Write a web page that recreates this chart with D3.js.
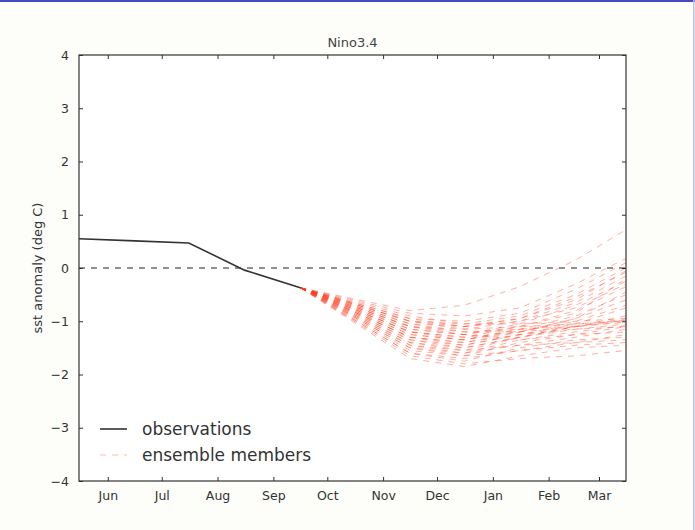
<!DOCTYPE html>
<html>
<head>
<meta charset="utf-8">
<script src="https://cdn.jsdelivr.net/npm/d3@7"></script>
<style>
  html, body { margin: 0; padding: 0; background: #fdfdfa; }
  svg { display: block; }
</style>
</head>
<body>
<script>
// ---------- data ----------
const title = "Nino3.4";
const yLabel = "sst anomaly (deg C)";
const obsDates = ["2016-05-16", "2016-06-16", "2016-07-16", "2016-08-16", "2016-09-16"];
const obsValues = [0.55, 0.51, 0.47, -0.04, -0.37];
const ensDates = ["2016-09-16", "2016-11-16", "2016-12-16", "2017-01-16", "2017-02-16", "2017-03-16"];
// each member: values at Nov, Dec, Jan, Feb, Mar (starts from last observation)
const ensMembers = [
  [-0.80, -0.70, -0.35, 0.15, 0.72],
  [-0.85, -0.90, -0.75, -0.30, 0.18],
  [-0.95, -1.00, -0.85, -0.40, 0.10],
  [-1.00, -1.05, -0.90, -0.50, 0.00],
  [-1.05, -1.10, -0.95, -0.55, -0.08],
  [-1.10, -1.15, -1.00, -0.65, -0.15],
  [-1.15, -1.25, -1.05, -0.70, -0.25],
  [-1.20, -1.30, -1.10, -0.80, -0.35],
  [-1.25, -1.35, -1.15, -0.90, -0.50],
  [-1.30, -1.40, -1.20, -0.95, -0.60],
  [-1.35, -1.45, -1.25, -1.05, -0.75],
  [-1.40, -1.50, -1.30, -1.10, -0.90],
  [-0.90, -1.05, -1.05, -1.00, -0.95],
  [-1.00, -1.15, -1.10, -1.05, -0.98],
  [-1.10, -1.20, -1.15, -1.10, -1.00],
  [-1.20, -1.30, -1.20, -1.10, -1.02],
  [-1.30, -1.40, -1.25, -1.15, -1.05],
  [-1.45, -1.55, -1.30, -1.15, -1.10],
  [-1.55, -1.65, -1.40, -1.25, -1.20],
  [-1.60, -1.75, -1.50, -1.35, -1.30],
  [-1.70, -1.85, -1.65, -1.50, -1.45],
  [-1.65, -1.80, -1.70, -1.65, -1.55],
  [-1.50, -1.60, -1.45, -1.30, -1.15],
  [-1.25, -1.35, -1.20, -1.00, -0.70],
  [-1.15, -1.25, -1.35, -1.25, -1.10],
  [-1.05, -1.20, -1.20, -0.95, -0.45],
  [-0.95, -1.10, -1.00, -0.75, -0.30],
  [-1.40, -1.55, -1.45, -1.40, -1.35],
  [-1.35, -1.50, -1.30, -1.10, -0.95],
  [-1.60, -1.70, -1.55, -1.40, -1.25],
  [-1.20, -1.35, -1.15, -1.05, -1.00],
  [-1.30, -1.45, -1.25, -1.10, -0.98],
  [-1.45, -1.60, -1.35, -1.20, -1.08],
  [-1.10, -1.25, -1.10, -0.85, -0.20],
  [-1.50, -1.65, -1.55, -1.45, -1.40],
  [-1.00, -1.10, -0.95, -0.60, -0.05]
];
const xTickDates = ["2016-06-01", "2016-07-01", "2016-08-01", "2016-09-01", "2016-10-01",
                    "2016-11-01", "2016-12-01", "2017-01-01", "2017-02-01", "2017-03-01"];
const xTickLabels = ["Jun", "Jul", "Aug", "Sep", "Oct", "Nov", "Dec", "Jan", "Feb", "Mar"];
const yTicks = [-4, -3, -2, -1, 0, 1, 2, 3, 4];
const legendLabels = ["observations", "ensemble members"];

// ---------- layout ----------
const W = 695, H = 530;
const L = 79, R = 626, T = 55, B = 481;
const parse = d3.utcParse("%Y-%m-%d");
const font = "'DejaVu Sans', sans-serif";

const svg = d3.select("body").append("svg").attr("width", W).attr("height", H);
svg.append("rect").attr("width", W).attr("height", H).attr("fill", "#fdfdfa");
svg.append("rect").attr("x", 0).attr("y", 0).attr("width", W).attr("height", 2).attr("fill", "#4848c4");
svg.append("rect").attr("x", W - 2).attr("y", 0).attr("width", 1.5).attr("height", H).attr("fill", "#b8c0f0");

const allDates = obsDates.concat(ensDates).map(parse);
const x = d3.scaleUtc().domain(d3.extent(allDates)).range([L, R]);
const y = d3.scaleLinear().domain([-4, 4]).range([B, T]);

// plot background
svg.append("rect").attr("x", L).attr("y", T).attr("width", R - L).attr("height", B - T).attr("fill", "#ffffff");

// zero line
svg.append("line").attr("x1", L).attr("x2", R).attr("y1", y(0)).attr("y2", y(0))
  .attr("stroke", "#222").attr("stroke-width", 1).attr("stroke-dasharray", "6,6");

// ensemble
const line = d3.line().x(d => x(d[0])).y(d => y(d[1]));
const ensD = ensDates.map(parse);
const startVal = obsValues[obsValues.length - 1];
svg.append("g").selectAll("path").data(ensMembers).join("path")
  .attr("d", m => line([startVal].concat(m).map((v, i) => [ensD[i], v])))
  .attr("fill", "none").attr("stroke", "#ff3a18").attr("stroke-opacity", 0.4)
  .attr("stroke-width", 1).attr("stroke-dasharray", "6,6");

// observations
svg.append("path")
  .attr("d", line(obsValues.map((v, i) => [parse(obsDates[i]), v])))
  .attr("fill", "none").attr("stroke", "#333").attr("stroke-width", 1.6);

// axes (ticks inward, matplotlib classic)
const xt = xTickDates.map(parse);
const tickLen = 4;
const axB = svg.append("g").attr("transform", `translate(0,${B})`)
  .call(d3.axisBottom(x).tickValues(xt).tickFormat((d, i) => xTickLabels[i]).tickSizeInner(-tickLen).tickSizeOuter(0).tickPadding(10));
const axT = svg.append("g").attr("transform", `translate(0,${T})`)
  .call(d3.axisTop(x).tickValues(xt).tickFormat("").tickSizeInner(-tickLen).tickSizeOuter(0));
const axL = svg.append("g").attr("transform", `translate(${L},0)`)
  .call(d3.axisLeft(y).tickValues(yTicks).tickFormat(d => d < 0 ? "\u2212" + Math.abs(d) : d).tickSizeInner(-tickLen).tickSizeOuter(0).tickPadding(10));
const axR = svg.append("g").attr("transform", `translate(${R},0)`)
  .call(d3.axisRight(y).tickValues(yTicks).tickFormat("").tickSizeInner(-tickLen).tickSizeOuter(0));
[axB, axT, axL, axR].forEach(a => {
  a.select(".domain").remove();
  a.selectAll("line").attr("stroke", "#333").attr("stroke-width", 1);
  a.selectAll("text").attr("font-family", font).attr("font-size", 12.5).attr("fill", "#333");
});

// frame
svg.append("rect").attr("x", L).attr("y", T).attr("width", R - L).attr("height", B - T)
  .attr("fill", "none").attr("stroke", "#333").attr("stroke-width", 1.2);

// title
svg.append("text").attr("x", (L + R) / 2).attr("y", T - 8).attr("text-anchor", "middle")
  .attr("font-family", font).attr("font-size", 13).attr("fill", "#444").text(title);

// y label
svg.append("text").attr("transform", `translate(42,${(T + B) / 2}) rotate(-90)`)
  .attr("text-anchor", "middle").attr("font-family", font).attr("font-size", 13).attr("fill", "#333").text(yLabel);

// legend
const lg = svg.append("g");
lg.append("line").attr("x1", 100).attr("x2", 127).attr("y1", 429).attr("y2", 429)
  .attr("stroke", "#333").attr("stroke-width", 1.6);
lg.append("line").attr("x1", 100).attr("x2", 127).attr("y1", 455).attr("y2", 455)
  .attr("stroke", "#ff3a18").attr("stroke-opacity", 0.35).attr("stroke-width", 1).attr("stroke-dasharray", "6,6");
lg.selectAll("text").data(legendLabels).join("text")
  .attr("x", 142).attr("y", (d, i) => 435 + i * 26)
  .attr("font-family", font).attr("font-size", 17).attr("fill", "#333").text(d => d);
</script>
</body>
</html>
